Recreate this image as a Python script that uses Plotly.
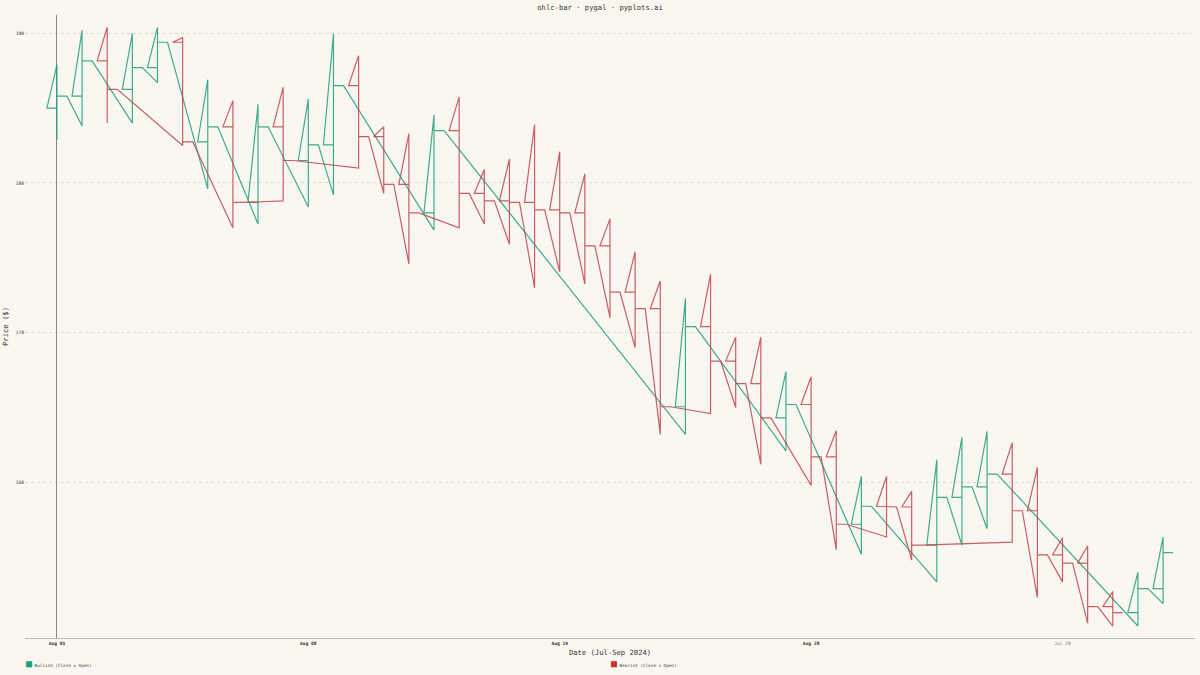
import plotly.graph_objects as go

# OHLC per trading session, x is the session index
opens = [185.0, 185.8, 188.15, 186.25, 187.7, 189.4, 182.75, 183.75, 178.7, 183.75,
         181.5, 182.55, 186.5, 183.1, 179.9, 178.0, 183.5, 179.3, 178.8, 178.7,
         178.2, 178.0, 175.8, 172.7, 171.6, 165.05, 170.4, 168.1, 166.6, 164.3,
         165.2, 161.7, 157.2, 158.4, 158.35, 155.8, 159.0, 159.7, 160.55, 158.1,
         155.15, 154.6, 151.7, 151.3, 152.9]
highs = [187.9, 190.2, 190.4, 190.0, 190.4, 189.7, 186.9, 185.5, 185.25, 186.4,
         185.6, 189.95, 188.5, 183.75, 183.3, 184.55, 185.75, 180.9, 181.6, 183.9,
         182.1, 180.6, 177.6, 175.4, 173.45, 172.3, 173.9, 169.7, 169.7, 167.4,
         167.05, 163.45, 160.4, 160.4, 159.4, 161.5, 163.0, 163.4, 162.65, 161.0,
         156.3, 155.75, 152.7, 154.0, 156.35]
lows = [182.9, 183.8, 184.0, 184.0, 186.7, 182.5, 179.6, 177.0, 177.25, 178.8,
        178.4, 179.2, 181.0, 179.3, 174.6, 176.85, 177.0, 177.25, 175.9, 173.0,
        174.05, 173.25, 171.0, 169.0, 163.2, 163.2, 164.6, 165.0, 161.2, 162.1,
        159.8, 155.5, 155.2, 156.35, 154.8, 153.35, 155.8, 156.9, 156.0, 152.3,
        153.35, 150.6, 150.4, 150.4, 151.9]
closes = [185.8, 188.15, 186.25, 187.7, 189.4, 182.75, 183.75, 178.7, 183.75, 181.5,
          182.55, 186.5, 183.1, 179.9, 178.0, 183.5, 179.3, 178.8, 178.7, 178.2,
          178.0, 175.8, 172.7, 171.6, 165.05, 170.4, 168.1, 166.6, 164.3, 165.2,
          161.7, 157.2, 158.4, 158.35, 155.8, 159.0, 159.7, 160.55, 158.1, 155.15,
          154.6, 151.7, 151.3, 152.9, 155.3]

tick_pos = [0, 10, 20, 30, 40]
tick_labels = ["<b>Aug 05</b>", "<b>Aug 08</b>", "<b>Aug 19</b>", "<b>Aug 28</b>",
               "<span style='color:#777'>Jul 29</span>"]

BULL = "#1f9e78"
BEAR = "#c0444e"
BG = "#faf7f1"
TICK = 0.4  # open/close tick length in session units
FONT = "DejaVu Sans Mono, monospace"


def ohlc_path(idx):
    # pygal joins every bar of a series into one polyline
    xs, ys = [], []
    for i in idx:
        xs += [i, i, i - TICK, i, i, i + TICK]
        ys += [lows[i], highs[i], opens[i], opens[i], closes[i], closes[i]]
    return xs, ys


bull_idx = [i for i in range(len(opens)) if closes[i] >= opens[i]]
bear_idx = [i for i in range(len(opens)) if closes[i] < opens[i]]

fig = go.Figure()
series = [(bull_idx, BULL, "#12a07a", "Bullish (Close ≥ Open)", 0.0),
          (bear_idx, BEAR, "#c62f35", "Bearish (Close < Open)", 0.5)]
for idx, color, swatch, name, leg_x in series:
    xs, ys = ohlc_path(idx)
    fig.add_trace(go.Scatter(x=xs, y=ys, mode="lines", name=name,
                             line=dict(color=color, width=1.2),
                             opacity=0.85, showlegend=False, hoverinfo="skip"))
    # pygal-style legend: coloured square + tiny label under the axis title
    fig.add_annotation(
        text=f"<span style='color:{swatch};font-size:10px'>■</span> {name}",
        xref="paper", yref="paper", x=leg_x, y=-0.041,
        xanchor="left", yanchor="middle", showarrow=False, borderpad=0,
        font=dict(family=FONT, size=4.3, color="#444"))

fig.update_layout(
    width=1200, height=675,
    paper_bgcolor=BG, plot_bgcolor=BG,
    margin=dict(l=25, r=5, t=15, b=37),
    font=dict(family=FONT, size=7, color="#333"),
    title=dict(text="ohlc-bar · pygal · pyplots.ai", x=0.5, xanchor="center",
               y=0.9896, yanchor="middle", font=dict(family=FONT, size=7.2, color="#333")),
    showlegend=False,
)
fig.update_xaxes(
    range=[-1.27, 45.27], tickvals=tick_pos, ticktext=tick_labels, automargin=False,
    showgrid=False, zeroline=True, zerolinecolor="#888", zerolinewidth=1,
    showline=True, linecolor="#bbb", linewidth=1, ticks="",
    tickfont=dict(family=FONT, size=4.6, color="#333"),
    title=dict(text="Date (Jul-Sep 2024)", standoff=5, font=dict(family=FONT, size=7.2, color="#333")),
)
fig.update_yaxes(
    range=[149.6, 191.22], tickvals=[160, 170, 180, 190], automargin=False,
    showgrid=True, gridcolor="#dcd8d0", griddash="dot", gridwidth=1,
    zeroline=False, showline=False, ticks="",
    tickfont=dict(family=FONT, size=4.6, color="#333"),
    title=dict(text="Price ($)", standoff=6, font=dict(family=FONT, size=7.2, color="#333")),
)

fig.write_html("out.html", config={"displayModeBar": False},
               post_script="document.body.style.margin='0';")
